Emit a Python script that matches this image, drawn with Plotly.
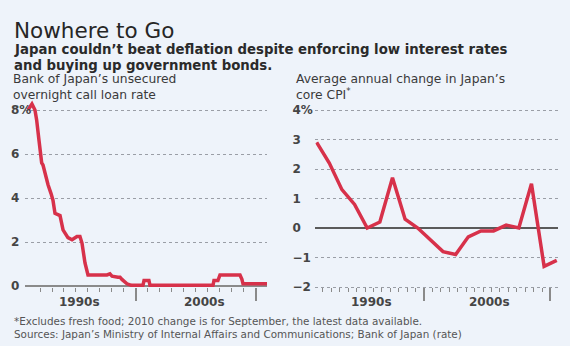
import plotly.graph_objects as go

W, H = 570, 346

# ---- data ----
rate_years = [1991.0, 1991.33, 1991.58, 1991.72, 1991.92, 1992.0, 1992.14, 1992.25, 1992.56, 1992.67,
              1992.92, 1993.08, 1993.25, 1993.67, 1993.92, 1994.33, 1994.67, 1995.08, 1995.33, 1995.5,
              1995.75, 1995.92, 1996.0, 1997.0, 1997.58, 1997.83, 1998.0, 1998.5, 1998.67, 1998.83,
              1999.08, 1999.25, 1999.5, 1999.6, 2000.58, 2000.67, 2001.08, 2001.17, 2006.42, 2006.5,
              2006.83, 2007.0, 2007.08, 2008.67, 2008.83, 2008.92, 2010.92]
call_rate = [8.0, 8.27, 8.0, 7.55, 6.6, 6.2, 5.6, 5.5, 4.7, 4.6,
             4.2, 3.9, 3.3, 3.2, 2.55, 2.2, 2.1, 2.25, 2.25, 1.95,
             1.05, 0.6, 0.5, 0.5, 0.5, 0.55, 0.45, 0.4, 0.4, 0.3,
             0.15, 0.1, 0.05, 0.03, 0.03, 0.25, 0.25, 0.03, 0.03, 0.25,
             0.25, 0.5, 0.5, 0.5, 0.3, 0.1, 0.1]

cpi_years = list(range(1991, 2011))
core_cpi = [2.9, 2.2, 1.3, 0.8, 0.0, 0.2, 1.7, 0.3, 0.0, -0.4,
            -0.8, -0.9, -0.3, -0.1, -0.1, 0.1, 0.0, 1.5, -1.3, -1.1]

left_yticks = [0, 2, 4, 6, 8]
left_ytext = ["0", "2", "4", "6", "8%"]
right_yticks = [-2, -1, 0, 1, 2, 3, 4]
right_ytext = ["\u22122", "\u22121", "0", "1", "2", "3", "4%"]
decade_labels = ["1990s", "2000s"]

RED = "#D7314A"
BG = "#EEF3FA"
GRID = "#9A9EA6"
FONT = "DejaVu Sans"

def px_x(p):
    return p / W

def px_y(p):
    return 1 - p / H

fig = go.Figure()
fig.add_trace(go.Scatter(x=rate_years, y=call_rate, mode="lines",
                         line=dict(color=RED, width=3.5), xaxis="x", yaxis="y",
                         hoverinfo="skip"))
fig.add_trace(go.Scatter(x=cpi_years, y=core_cpi, mode="lines",
                         line=dict(color=RED, width=3.5), xaxis="x2", yaxis="y2",
                         hoverinfo="skip"))

tickfont = dict(family=FONT, size=12, color="#454545", weight="bold")

# left: 22 px per unit, 0 at y=286 ; right: 29.5 px per unit, 0 at y=228
L0, LS = 286.0, 22.0
R0, RS = 228.0, 29.5
l_rng = [-0.5, 8.5]
r_rng = [-2.3, 4.3]

fig.update_layout(
    width=W, height=H, autosize=False, margin=dict(l=0, r=0, t=0, b=0, pad=0),
    paper_bgcolor=BG, plot_bgcolor=BG, showlegend=False,
    xaxis=dict(domain=[px_x(25), px_x(267)], range=[1990.75, 2010.92],
               showgrid=False, zeroline=False, showline=False,
               tickmode="array", tickvals=[2000, 2010], showticklabels=False,
               ticks="outside", ticklen=13, tickwidth=2, tickcolor="#8a8a8a",
               minor=dict(ticks="outside", ticklen=4, tickwidth=1, tickcolor="#8a8a8a",
                          tick0=1991, dtick=1, showgrid=False),
               anchor="free", position=px_y(L0 + 0.5), fixedrange=True),
    yaxis=dict(domain=[px_y(L0 - l_rng[0] * LS), px_y(L0 - l_rng[1] * LS)], range=l_rng,
               tickmode="array", tickvals=left_yticks, ticktext=left_ytext,
               showgrid=True, gridcolor=GRID, griddash="dot", gridwidth=1,
               zeroline=True, zerolinecolor="#8a8a8a", zerolinewidth=1.5,
               showline=False, ticks="", tickfont=tickfont,
               ticklabelposition="inside", ticklabelstandoff=-17,
               anchor="x", fixedrange=True),
    xaxis2=dict(domain=[px_x(315.4), px_x(558.0)], range=[1990.9, 2010.1],
                showgrid=False, zeroline=False, showline=False,
                tickmode="array", tickvals=[1999.5, 2009.5], showticklabels=False,
                ticks="outside", ticklen=13, tickwidth=2, tickcolor="#8a8a8a",
                minor=dict(ticks="outside", ticklen=4, tickwidth=1, tickcolor="#8a8a8a",
                           tick0=1999.5, dtick=2/3, showgrid=False),
                anchor="free", position=px_y(R0 + 2 * RS), fixedrange=True),
    yaxis2=dict(domain=[px_y(R0 - r_rng[0] * RS), px_y(R0 - r_rng[1] * RS)], range=r_rng,
                tickmode="array", tickvals=right_yticks, ticktext=right_ytext,
                showgrid=True, gridcolor=GRID, griddash="dot", gridwidth=1,
                zeroline=True, zerolinecolor="#5a5a5a", zerolinewidth=1.5,
                showline=False, ticks="", tickfont=tickfont,
                ticklabelposition="inside", ticklabelstandoff=-26,
                anchor="x2", fixedrange=True),
)

ann = []
def text(x, y, s, size, color="#222", weight="normal", xref="paper", yanchor="middle", xanchor="left"):
    ann.append(dict(x=x, y=y, xref=xref, yref="paper", text=s, showarrow=False,
                    xanchor=xanchor, yanchor=yanchor, align="left",
                    font=dict(family=FONT, size=size, color=color, weight=weight)))

text(px_x(12), px_y(30), "Nowhere to Go", 21.5, "#262626")
text(px_x(12), px_y(50), "Japan couldn\u2019t beat deflation despite enforcing low interest rates", 13.3, "#2a2a2a", "bold")
text(px_x(12), px_y(65.5), "and buying up government bonds.", 13.3, "#2a2a2a", "bold")
text(px_x(11), px_y(104), "Bank of Japan\u2019s unsecured<br>overnight call loan rate", 12.3, "#3a3a3a", yanchor="bottom")
text(px_x(294), px_y(104), "Average annual change in Japan\u2019s<br>core CPI<sup>*</sup>", 12.3, "#3a3a3a", yanchor="bottom")
text(px_x(12), px_y(321), "*Excludes fresh food; 2010 change is for September, the latest data available.", 10.4, "#555")
text(px_x(12), px_y(334), "Sources: Japan\u2019s Ministry of Internal Affairs and Communications; Bank of Japan (rate)", 10.4, "#555")

# decade labels
for xv, lab in zip([1995.33, 2005.75], decade_labels):
    text(xv, px_y(302), lab, 12, "#454545", "bold", xref="x", xanchor="center")
for xv, lab in zip([1995.3, 2004.7], decade_labels):
    text(xv, px_y(302), lab, 12, "#454545", "bold", xref="x2", xanchor="center")

fig.update_layout(annotations=ann)
fig.write_html("out.html", config={"responsive": False, "displayModeBar": False})
